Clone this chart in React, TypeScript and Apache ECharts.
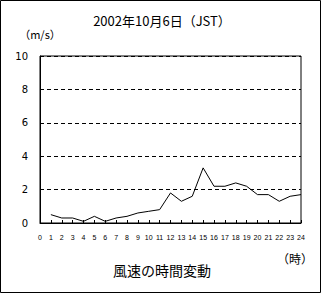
import React, { useEffect, useRef } from "react";
import * as echarts from "echarts";

const hours = [1, 2, 3, 4, 5, 6, 7, 8, 9, 10, 11, 12, 13, 14, 15, 16, 17, 18, 19, 20, 21, 22, 23, 24];
const windSpeed = [0.5, 0.3, 0.3, 0.1, 0.4, 0.1, 0.3, 0.4, 0.6, 0.7, 0.8, 1.8, 1.3, 1.6, 3.3, 2.2, 2.2, 2.4, 2.2, 1.7, 1.7, 1.3, 1.6, 1.7];
const titleText = "2002年10月6日（JST）";
const unitText = "（m/s）";
const xUnitText = "（時）";
const captionText = "風速の時間変動";

export default function App() {
  const ref = useRef<HTMLDivElement>(null);
  useEffect(() => {
    if (!ref.current) return;
    const chart = echarts.init(ref.current, null, { renderer: "svg" });
    const font = "'Noto Sans CJK JP', sans-serif";
    chart.setOption({
      animation: false,
      backgroundColor: "#ffffff",
      grid: {
        left: 40,
        right: 21,
        top: 56,
        bottom: 71,
        show: true,
        borderColor: "#000",
        borderWidth: 1,
        backgroundColor: "transparent",
      },
      xAxis: {
        type: "value",
        min: 0,
        max: 24,
        interval: 1,
        axisLine: { show: true, lineStyle: { color: "#000", width: 1 } },
        axisTick: { show: true, inside: true, length: 3, lineStyle: { color: "#000" } },
        axisLabel: { color: "#000", fontSize: 7, margin: 11, fontFamily: "'Liberation Sans', sans-serif" },
        splitLine: { show: false },
      },
      yAxis: {
        type: "value",
        min: 0,
        max: 10,
        interval: 2,
        axisLine: { show: true, lineStyle: { color: "#000", width: 1 } },
        axisTick: { show: false },
        axisLabel: { color: "#000", fontSize: 10, margin: 12, fontFamily: "'DejaVu Sans', sans-serif" },
        splitLine: { show: true, lineStyle: { color: "#000", type: [4, 3], width: 1 } },
      },
      series: [
        {
          type: "line",
          data: hours.map((h, i) => [h, windSpeed[i]]),
          showSymbol: false,
          lineStyle: { color: "#000", width: 1 },
          itemStyle: { color: "#000" },
        },
      ],
      graphic: [
        {
          type: "rect",
          shape: { x: 0.5, y: 0.5, width: 320, height: 292 },
          style: { fill: "none", stroke: "#000", lineWidth: 1 },
          silent: true,
        },
        {
          type: "text",
          x: 162,
          y: 20,
          style: { text: titleText, fontSize: 13, fill: "#000", fontFamily: font, align: "center", verticalAlign: "middle" },
        },
        {
          type: "text",
          x: 40,
          y: 34,
          style: { text: unitText, fontSize: 11, fill: "#000", fontFamily: font, align: "center", verticalAlign: "middle" },
        },
        {
          type: "text",
          x: 295,
          y: 258,
          style: { text: xUnitText, fontSize: 12, fill: "#000", fontFamily: font, align: "center", verticalAlign: "middle" },
        },
        {
          type: "text",
          x: 162,
          y: 270,
          style: { text: captionText, fontSize: 14, fill: "#000", fontFamily: font, align: "center", verticalAlign: "middle" },
        },
      ],
    });
    return () => chart.dispose();
  }, []);
  return (
    <div
      ref={ref}
      style={{ position: "fixed", left: 0, top: 0, width: 322, height: 294 }}
    />
  );
}
